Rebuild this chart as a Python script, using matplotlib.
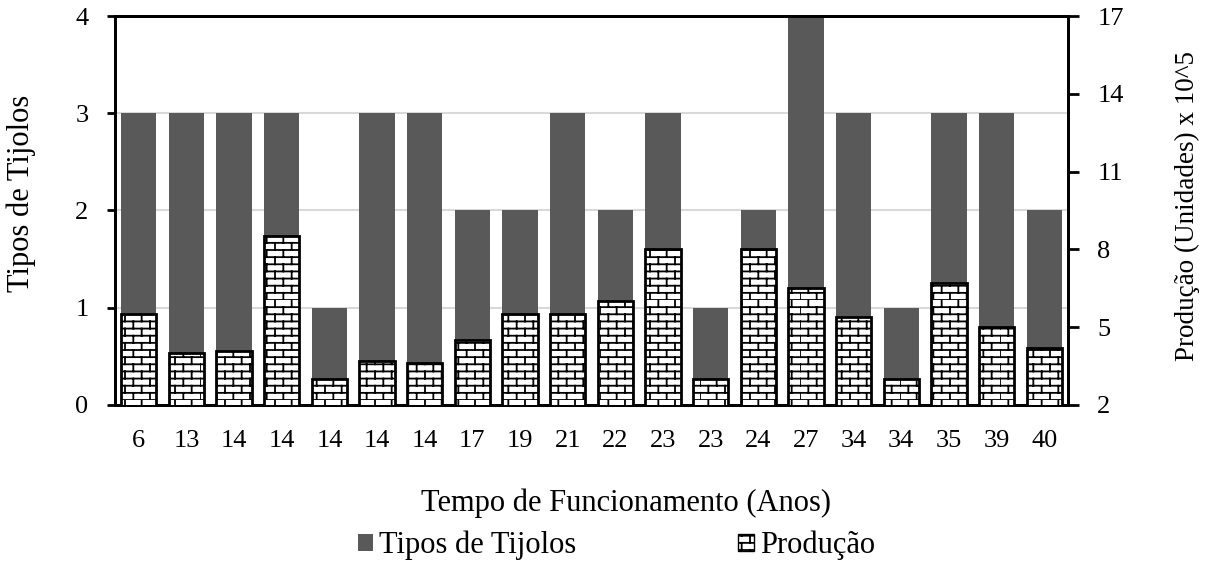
import warnings
import numpy as np
import matplotlib
matplotlib.use("Agg")
import matplotlib.pyplot as plt
import matplotlib.hatch as mhatch
from matplotlib.path import Path
from matplotlib.patches import Patch

warnings.filterwarnings("ignore")

anos = ["6", "13", "14", "14", "14", "14", "14", "17", "19", "21",
        "22", "23", "23", "24", "27", "34", "34", "35", "39", "40"]
tipos = [3, 3, 3, 3, 1, 3, 3, 2, 2, 3, 2, 3, 1, 2, 4, 3, 1, 3, 3, 2]
producao = [5.5, 4.0, 4.1, 8.5, 3.0, 3.7, 3.6, 4.5, 5.5, 5.5,
            6.0, 8.0, 3.0, 8.0, 6.5, 5.4, 3.0, 6.7, 5.0, 4.2]


class BrickHatch(mhatch.HatchPatternBase):
    """Brick wall pattern, selected with the 'b' hatch character."""

    def __init__(self, hatch, density):
        self.rows = 14 * hatch.count("b")
        self.cols = 6
        self.num_vertices = self.rows * 2 + self.rows * self.cols * 2

    def set_vertices_and_codes(self, vertices, codes):
        i = 0
        for r in range(self.rows):
            y0 = r / self.rows
            y1 = (r + 1) / self.rows
            vertices[i] = (0.0, y0)
            vertices[i + 1] = (1.0, y0)
            codes[i] = Path.MOVETO
            codes[i + 1] = Path.LINETO
            i += 2
            shift = 0.5 / self.cols if r % 2 else 0.0
            for c in range(self.cols):
                xv = c / self.cols + shift
                vertices[i] = (xv, y0)
                vertices[i + 1] = (xv, y1)
                codes[i] = Path.MOVETO
                codes[i + 1] = Path.LINETO
                i += 2


mhatch._hatch_types.append(BrickHatch)

plt.rcParams["font.family"] = ["Liberation Serif", "DejaVu Serif"]
plt.rcParams["hatch.linewidth"] = 1.3

fig = plt.figure(figsize=(12.13, 5.66), dpi=100)
ax = fig.add_axes([0.0948, 0.2845, 0.7857, 0.6872])
ax2 = ax.twinx()

x = np.arange(len(anos))
w = 0.74

ax.bar(x, tipos, width=w, color="#595959", edgecolor="none", zorder=2)
ax2.bar(x, producao, width=w, color="white", edgecolor="black",
        linewidth=2, hatch="b", zorder=3)

ax.set_xlim(-0.5, len(anos) - 0.5)
ax.set_ylim(0, 4)
ax.set_yticks([0, 1, 2, 3, 4])
ax.yaxis.grid(True, color="#d9d9d9", linewidth=1.5, zorder=0)
ax.set_axisbelow(True)

ax2.set_ylim(2, 17)
ax2.set_yticks([2, 5, 8, 11, 14, 17])

ax.set_xticks(x)
ax.set_xticklabels(anos)

for a in (ax, ax2):
    for s in ("left", "right", "bottom", "top"):
        a.spines[s].set_linewidth(2)
    a.tick_params(axis="x", labelsize=19, length=0, pad=18)
ax.tick_params(axis="y", labelsize=19, width=2, length=6, pad=13)
ax2.tick_params(axis="y", labelsize=19, width=2, length=8, pad=13)

ax.set_xlabel("Tempo de Funcionamento (Anos)", fontsize=22)
ax.xaxis.set_label_coords(0.536, -0.214)
ax.set_ylabel("Tipos de Tijolos", fontsize=22)
ax.yaxis.set_label_coords(-0.083, 0.545)
ax2.set_ylabel("Produção (Unidades) x 10^5", fontsize=19.5)
ax2.yaxis.set_label_coords(1.112, 0.512)

handles = [Patch(facecolor="#595959", edgecolor="none", label="Tipos de Tijolos"),
           Patch(facecolor="white", edgecolor="black", linewidth=1,
                 hatch="b", label="Produção")]
fig.legend(handles=handles, loc="center", bbox_to_anchor=(0.508, 0.036),
           ncol=2, frameon=False, fontsize=22, handlelength=0.5,
           handleheight=0.5, handletextpad=0.2, columnspacing=5.3,
           borderaxespad=0, borderpad=0)

fig.savefig("out.png", dpi=100)
